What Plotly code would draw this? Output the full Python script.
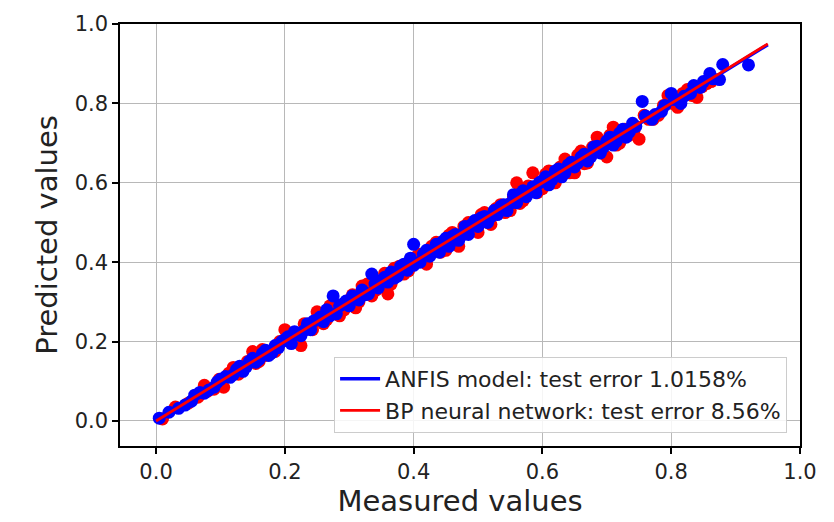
import plotly.graph_objects as go

# ANFIS model (blue) scatter points
anfis_x = [0.005, 0.02, 0.035, 0.045, 0.055, 0.06, 0.068, 0.075, 0.082, 0.09, 0.095, 0.10, 0.108, 0.115, 0.12,
           0.125, 0.13, 0.135, 0.14, 0.145, 0.15, 0.155, 0.16, 0.165, 0.17, 0.175, 0.18, 0.185, 0.19, 0.195,
           0.20, 0.205, 0.21, 0.215, 0.22, 0.225, 0.23, 0.235, 0.24, 0.245, 0.25, 0.255, 0.26, 0.265, 0.27,
           0.275, 0.28, 0.285, 0.29, 0.295, 0.30, 0.305, 0.31, 0.315, 0.32, 0.325, 0.33, 0.335, 0.34, 0.345,
           0.35, 0.355, 0.36, 0.365, 0.37, 0.375, 0.38, 0.385, 0.39, 0.395, 0.40, 0.40, 0.41, 0.415, 0.42,
           0.425, 0.43, 0.435, 0.44, 0.445, 0.45, 0.455, 0.46, 0.465, 0.47, 0.475, 0.48, 0.485, 0.49, 0.495,
           0.50, 0.505, 0.51, 0.515, 0.52, 0.525, 0.53, 0.535, 0.54, 0.545, 0.55, 0.555, 0.56, 0.565, 0.57,
           0.575, 0.58, 0.585, 0.59, 0.595, 0.60, 0.605, 0.61, 0.615, 0.62, 0.625, 0.63, 0.635, 0.64, 0.645,
           0.65, 0.655, 0.66, 0.665, 0.67, 0.675, 0.68, 0.685, 0.69, 0.695, 0.70, 0.705, 0.71, 0.715, 0.72,
           0.725, 0.73, 0.735, 0.74, 0.745, 0.755, 0.76, 0.77, 0.775, 0.785, 0.79, 0.80, 0.805, 0.815, 0.82,
           0.83, 0.835, 0.845, 0.85, 0.86, 0.865, 0.875, 0.88, 0.92]
anfis_y = [0.007, 0.022, 0.032, 0.040, 0.050, 0.065, 0.072, 0.070, 0.078, 0.085, 0.098, 0.105, 0.112, 0.110, 0.117,
           0.130, 0.138, 0.125, 0.136, 0.150, 0.158, 0.148, 0.155, 0.170, 0.178, 0.165, 0.172, 0.190, 0.185, 0.200,
           0.205, 0.212, 0.195, 0.225, 0.218, 0.215, 0.228, 0.245, 0.230, 0.252, 0.255, 0.262, 0.250, 0.280, 0.265,
           0.315, 0.270, 0.290, 0.295, 0.302, 0.290, 0.315, 0.310, 0.305, 0.330, 0.318, 0.320, 0.370, 0.345, 0.335,
           0.355, 0.362, 0.350, 0.375, 0.360, 0.365, 0.390, 0.395, 0.380, 0.410, 0.445, 0.392, 0.400, 0.420, 0.430,
           0.415, 0.425, 0.445, 0.425, 0.452, 0.460, 0.440, 0.465, 0.470, 0.455, 0.468, 0.490, 0.470, 0.495, 0.505,
           0.490, 0.512, 0.515, 0.500, 0.515, 0.530, 0.520, 0.540, 0.545, 0.530, 0.548, 0.570, 0.550, 0.572, 0.580,
           0.565, 0.578, 0.590, 0.575, 0.600, 0.605, 0.615, 0.595, 0.608, 0.630, 0.635, 0.615, 0.625, 0.645, 0.652,
           0.640, 0.650, 0.665, 0.672, 0.655, 0.665, 0.690, 0.692, 0.675, 0.690, 0.705, 0.715, 0.695, 0.705, 0.725,
           0.735, 0.715, 0.728, 0.750, 0.742, 0.805, 0.768, 0.760, 0.772, 0.780, 0.795, 0.825, 0.810, 0.800, 0.818,
           0.825, 0.845, 0.840, 0.855, 0.875, 0.862, 0.860, 0.898, 0.897]

# BP neural network (red) scatter points
bp_x = [0.01, 0.03, 0.05, 0.065, 0.075, 0.08, 0.09, 0.098, 0.105, 0.113, 0.12, 0.128, 0.135, 0.142, 0.15,
        0.155, 0.16, 0.165, 0.17, 0.178, 0.185, 0.192, 0.20, 0.205, 0.21, 0.218, 0.225, 0.23, 0.235, 0.243,
        0.25, 0.255, 0.26, 0.265, 0.27, 0.278, 0.285, 0.292, 0.30, 0.305, 0.31, 0.315, 0.32, 0.328, 0.335,
        0.342, 0.35, 0.355, 0.36, 0.365, 0.37, 0.378, 0.385, 0.392, 0.40, 0.405, 0.41, 0.415, 0.42, 0.428,
        0.435, 0.442, 0.45, 0.455, 0.46, 0.465, 0.47, 0.478, 0.485, 0.492, 0.50, 0.505, 0.51, 0.515, 0.52,
        0.528, 0.535, 0.542, 0.55, 0.555, 0.56, 0.565, 0.57, 0.578, 0.585, 0.592, 0.60, 0.605, 0.61, 0.615,
        0.62, 0.628, 0.635, 0.642, 0.65, 0.655, 0.66, 0.665, 0.67, 0.678, 0.685, 0.692, 0.70, 0.705, 0.71,
        0.715, 0.72, 0.728, 0.735, 0.742, 0.75, 0.758, 0.765, 0.772, 0.78, 0.788, 0.795, 0.802, 0.81, 0.818,
        0.825, 0.832, 0.84, 0.848, 0.855, 0.862]
bp_y = [0.005, 0.035, 0.045, 0.060, 0.090, 0.075, 0.080, 0.105, 0.085, 0.120, 0.135, 0.118, 0.130, 0.150, 0.175,
        0.145, 0.150, 0.180, 0.165, 0.170, 0.175, 0.200, 0.230, 0.215, 0.200, 0.205, 0.190, 0.245, 0.240, 0.230,
        0.275, 0.262, 0.245, 0.255, 0.290, 0.295, 0.265, 0.280, 0.305, 0.318, 0.285, 0.300, 0.340, 0.345, 0.315,
        0.330, 0.345, 0.372, 0.320, 0.345, 0.385, 0.390, 0.370, 0.378, 0.395, 0.415, 0.420, 0.405, 0.395, 0.440,
        0.450, 0.425, 0.430, 0.468, 0.475, 0.450, 0.440, 0.490, 0.500, 0.480, 0.475, 0.520, 0.525, 0.500, 0.495,
        0.535, 0.545, 0.525, 0.530, 0.565, 0.600, 0.548, 0.555, 0.592, 0.625, 0.575, 0.585, 0.622, 0.630, 0.600,
        0.600, 0.640, 0.660, 0.625, 0.625, 0.670, 0.680, 0.648, 0.650, 0.690, 0.715, 0.675, 0.665, 0.720, 0.740,
        0.695, 0.700, 0.735, 0.720, 0.730, 0.710, 0.770, 0.760, 0.760, 0.770, 0.795, 0.820, 0.800, 0.790, 0.825,
        0.835, 0.820, 0.815, 0.842, 0.850, 0.855]

# Fitted lines
fit_x = [0.0, 0.95]
anfis_fit_y = [0.0, 0.948]
bp_fit_y = [0.0, 0.950]

legend_names = ["ANFIS model: test error 1.0158%", "BP neural network: test error 8.56%"]
x_ticks = [0.0, 0.2, 0.4, 0.6, 0.8, 1.0]
y_ticks = [0.0, 0.2, 0.4, 0.6, 0.8, 1.0]

BLUE = "#0000ff"
RED = "#ff0000"
FONT = "DejaVu Sans"

fig = go.Figure()
fig.add_trace(go.Scatter(x=bp_x, y=bp_y, mode="markers", showlegend=False,
                         marker=dict(color=RED, size=13, line=dict(width=0))))
fig.add_trace(go.Scatter(x=anfis_x, y=anfis_y, mode="markers", showlegend=False,
                         marker=dict(color=BLUE, size=13, line=dict(width=0))))
fig.add_trace(go.Scatter(x=fit_x, y=anfis_fit_y, mode="lines", name=legend_names[0],
                         line=dict(color=BLUE, width=3.5)))
fig.add_trace(go.Scatter(x=fit_x, y=bp_fit_y, mode="lines", name=legend_names[1],
                         line=dict(color=RED, width=2.8)))

axis_common = dict(
    showline=True, linecolor="black", linewidth=1.5, mirror=True,
    ticks="outside", ticklen=6, tickwidth=1.5, tickcolor="black",
    showgrid=True, gridcolor="#b8b8b8", gridwidth=1.2,
    zeroline=False, tickformat=".1f",
    tickfont=dict(family=FONT, size=21, color="#222"),
)

fig.update_xaxes(range=[-0.056, 1.0], tickvals=x_ticks,
                 title=dict(text="Measured values", font=dict(family=FONT, size=29, color="#222"),
                            standoff=6),
                 **axis_common)
fig.update_yaxes(range=[-0.063, 1.0], tickvals=y_ticks,
                 title=dict(text="Predicted values", font=dict(family=FONT, size=29, color="#222"),
                            standoff=8),
                 **axis_common)

fig.update_layout(
    width=834, height=522,
    margin=dict(l=120, r=34, t=22, b=76),
    paper_bgcolor="white", plot_bgcolor="white",
    legend=dict(x=0.981, y=0.031, xanchor="right", yanchor="bottom",
                bgcolor="rgba(255,255,255,0.85)", bordercolor="#cccccc", borderwidth=1,
                font=dict(family=FONT, size=22, color="#222"),
                tracegroupgap=0, itemwidth=40),
    showlegend=True,
)

fig.write_html("out.html", config={"displayModeBar": False},
               post_script="document.body.style.margin='0px';")
